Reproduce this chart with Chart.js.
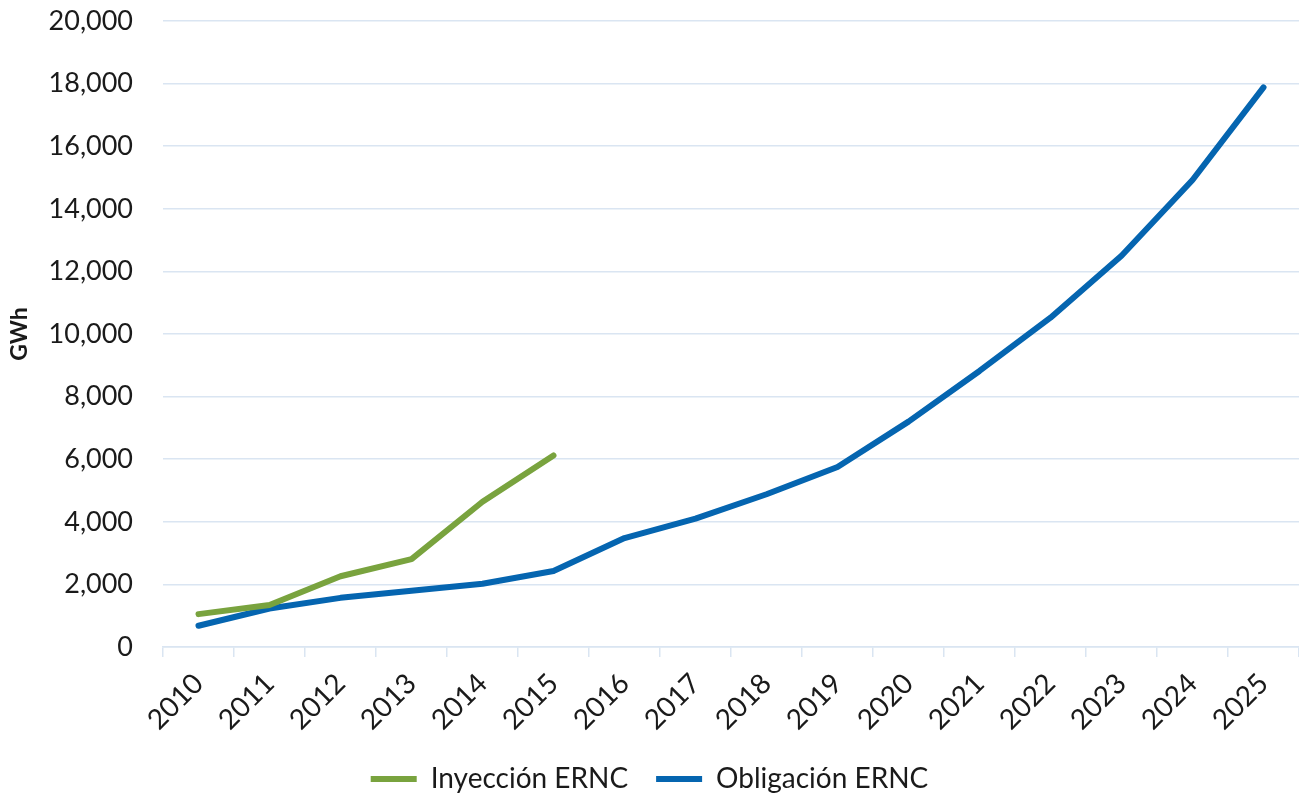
<!DOCTYPE html>
<html>
<head>
<meta charset="utf-8">
<script src="https://cdn.jsdelivr.net/npm/chart.js@4/dist/chart.umd.min.js"></script>
<style>
  html, body { margin: 0; padding: 0; background: #ffffff; }
  #wrap { position: relative; width: 1299px; height: 793px; }
</style>
</head>
<body>
<div id="wrap"><canvas id="c" width="1299" height="793"></canvas></div>
<script>
const years = ['2010','2011','2012','2013','2014','2015','2016','2017','2018','2019','2020','2021','2022','2023','2024','2025'];
const inyeccion = [1050, 1340, 2260, 2810, 4640, 6120, null, null, null, null, null, null, null, null, null, null];
const obligacion = [680, 1230, 1570, 1800, 2020, 2430, 3480, 4100, 4880, 5750, 7200, 8820, 10520, 12500, 14920, 17880];
const seriesNames = ['Inyección ERNC', 'Obligación ERNC'];
const yTicksMax = 20000;
const yTicksStep = 2000;

const FONT = 'Lato, "Open Sans", sans-serif';
const gridColor = '#dae5f2';

new Chart(document.getElementById('c'), {
  type: 'line',
  data: {
    labels: years,
    datasets: [
      { label: seriesNames[0], data: inyeccion, borderColor: '#79a33e', backgroundColor: '#79a33e',
        borderWidth: 6, pointRadius: 0, tension: 0, borderCapStyle: 'round', borderJoinStyle: 'round', spanGaps: false },
      { label: seriesNames[1], data: obligacion, borderColor: '#0565b0', backgroundColor: '#0565b0',
        borderWidth: 6, pointRadius: 0, tension: 0, borderCapStyle: 'round', borderJoinStyle: 'round' }
    ]
  },
  options: {
    responsive: false,
    animation: false,
    devicePixelRatio: 1,
    layout: { padding: { top: 0, right: 0, bottom: -10, left: 0 } },
    plugins: {
      tooltip: { enabled: false },
      legend: {
        position: 'bottom',
        labels: {
          usePointStyle: true,
          pointStyle: 'line',
          pointStyleWidth: 46,
          boxHeight: 6,
          padding: 28,
          color: '#1a1a1a',
          font: { family: FONT, size: 28 }
        }
      }
    },
    scales: {
      x: {
        offset: true,
        grid: { display: true, drawOnChartArea: false, drawTicks: true, tickLength: 10, color: gridColor, lineWidth: 1.5, offset: true },
        border: { display: true, color: gridColor, width: 1.5 },
        ticks: { autoSkip: false, minRotation: 45, maxRotation: 45, color: '#1a1a1a', padding: 10,
                 font: { family: FONT, size: 28 } },
        afterFit: (s) => { s.height = 90; }
      },
      y: {
        min: 0, max: yTicksMax,
        grid: { color: gridColor, lineWidth: 1.5, drawTicks: false },
        border: { display: false },
        ticks: { stepSize: yTicksStep, padding: 30, color: '#1a1a1a', font: { family: FONT, size: 27 },
                 callback: (v) => v.toLocaleString('en-US') },
        title: { display: true, text: 'GWh', color: '#1a1a1a', font: { family: FONT, size: 23, weight: 'bold' }, padding: { top: 6, bottom: 0 } },
        afterFit: (s) => { s.width = 163; s.paddingTop = 21; s.paddingBottom = 0; }
      }
    }
  }
});
</script>
</body>
</html>
